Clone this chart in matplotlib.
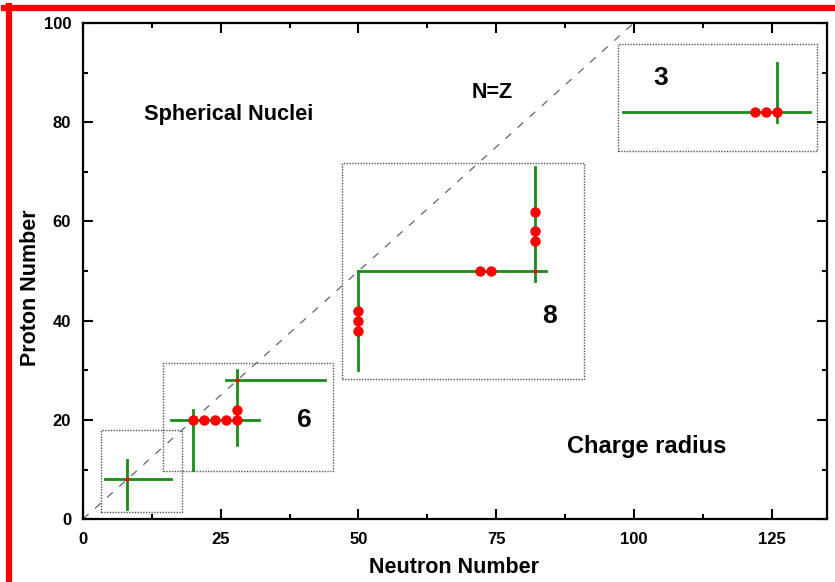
import matplotlib.pyplot as plt
from matplotlib.lines import Line2D
from matplotlib.patches import Rectangle
from matplotlib.ticker import MultipleLocator

plt.rcParams['font.family'] = ['Liberation Sans', 'DejaVu Sans']
plt.rcParams['font.weight'] = 'bold'

# magic-number lines: horizontal (fixed Z) and vertical (fixed N)
h_z = [8, 20, 28, 50, 82]
h_n0 = [4, 16, 26, 50, 98]
h_n1 = [16, 32, 44, 84, 132]
v_n = [8, 20, 28, 50, 82, 126]
v_z0 = [2, 10, 15, 30, 48, 80]
v_z1 = [12, 22, 30, 50, 71, 92]

# charge radius data points
dot_n = [20, 22, 24, 26, 28, 28, 50, 50, 50, 72, 74, 82, 82, 82, 122, 124, 126]
dot_z = [20, 20, 20, 20, 20, 22, 38, 40, 42, 50, 50, 56, 58, 62, 82, 82, 82]
# doubly magic points
dm_n = [8, 28, 82]
dm_z = [8, 28, 50]

# dotted boxes and their counts
box_x0 = [3.3, 14.5, 47.0, 97.2]
box_y0 = [1.4, 9.7, 28.2, 74.1]
box_x1 = [18.0, 45.4, 91.0, 133.2]
box_y1 = [18.0, 31.4, 71.7, 95.8]
count_lbl = ['6', '8', '3']
count_x = [40.2, 84.6, 104.8]
count_y = [20.0, 41.0, 89.0]

fig = plt.figure(figsize=(8.35, 5.82), dpi=100)
ax = fig.add_axes([0.0994, 0.108, 0.8906, 0.8525])

# N=Z diagonal
ax.plot([0, 100], [0, 100], color='#666666', lw=0.9, ls=(0, (6, 7)))

for x0, y0, x1, y1 in zip(box_x0, box_y0, box_x1, box_y1):
    ax.add_patch(Rectangle((x0, y0), x1 - x0, y1 - y0, fill=False,
                           ec='#555555', lw=1.0, ls=(0, (1, 1))))

for z, a, b in zip(h_z, h_n0, h_n1):
    ax.plot([a, b], [z, z], color='#1a8c1a', lw=2.0)
for n, a, b in zip(v_n, v_z0, v_z1):
    ax.plot([n, n], [a, b], color='#1a8c1a', lw=2.0)

ax.plot(dot_n, dot_z, 'o', color='#ff0000', ms=7.5, mec='none')
ax.plot(dm_n, dm_z, 'o', color='#ff0000', ms=3, mec='none')

for t, x, y in zip(count_lbl, count_x, count_y):
    ax.text(x, y, t, fontsize=19, fontweight='bold', ha='center', va='center')

ax.text(26.4, 81.5, 'Spherical Nuclei', fontsize=15.7, fontweight='bold', ha='center', va='center')
ax.text(74.3, 86.0, 'N=Z', fontsize=15.5, fontweight='bold', ha='center', va='center')
ax.text(102.4, 14.7, 'Charge radius', fontsize=17, fontweight='bold', ha='center', va='center')

ax.set_xlim(0, 135)
ax.set_ylim(0, 100)
ax.xaxis.set_major_locator(MultipleLocator(25))
ax.xaxis.set_minor_locator(MultipleLocator(12.5))
ax.yaxis.set_major_locator(MultipleLocator(20))
ax.yaxis.set_minor_locator(MultipleLocator(10))
ax.tick_params(which='both', direction='in', top=True, right=True, width=1.5, labelsize=12)
ax.tick_params(which='major', length=7)
ax.tick_params(which='minor', length=3.5)
ax.tick_params(axis='x', which='major', pad=9)
ax.tick_params(axis='y', which='major', pad=8.5)
for s in ax.spines.values():
    s.set_linewidth(1.6)
ax.set_xlabel('Neutron Number', fontsize=15.5, fontweight='bold', va='center')
ax.set_ylabel('Proton Number', fontsize=15.5, fontweight='bold', va='center')
ax.xaxis.set_label_coords(0.4986, -0.0968)
ax.yaxis.set_label_coords(-0.0712, 0.467)

# red frame on left and top
fig.add_artist(Line2D([0.0108, 0.0108], [0, 0.99], color='#ff0000', lw=4.5))
fig.add_artist(Line2D([0.005, 1.0], [0.9863, 0.9863], color='#ff0000', lw=4.5))

fig.savefig('out.png', dpi=100)
